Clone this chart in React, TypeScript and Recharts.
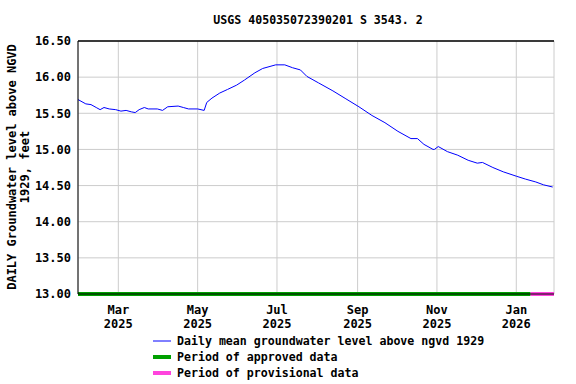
import { LineChart, Line, XAxis, YAxis, CartesianGrid } from 'recharts';

// daily mean water level
const dates = [
  '2025-01-29', '2025-02-04', '2025-02-08', '2025-02-12', '2025-02-15', '2025-02-18',
  '2025-02-22', '2025-02-27', '2025-03-03', '2025-03-07', '2025-03-11', '2025-03-14',
  '2025-03-17', '2025-03-21', '2025-03-24', '2025-03-31', '2025-04-04', '2025-04-08',
  '2025-04-16', '2025-04-20', '2025-04-24', '2025-05-01', '2025-05-06', '2025-05-08',
  '2025-05-12', '2025-05-18', '2025-05-24', '2025-05-31', '2025-06-06', '2025-06-14',
  '2025-06-20', '2025-06-30', '2025-07-07', '2025-07-13', '2025-07-19', '2025-07-24',
  '2025-08-02', '2025-08-13', '2025-08-23', '2025-09-02', '2025-09-12', '2025-09-22',
  '2025-10-02', '2025-10-12', '2025-10-17', '2025-10-22', '2025-10-29', '2025-10-30',
  '2025-11-02', '2025-11-09', '2025-11-17', '2025-11-25', '2025-12-02', '2025-12-06',
  '2025-12-14', '2025-12-22', '2026-01-01', '2026-01-08', '2026-01-16', '2026-01-22',
  '2026-01-29',
];
const levels = [
  15.69, 15.63, 15.62, 15.58, 15.55, 15.58,
  15.56, 15.55, 15.53, 15.54, 15.52, 15.51,
  15.55, 15.58, 15.56, 15.56, 15.54, 15.59,
  15.60, 15.58, 15.56, 15.56, 15.54, 15.65,
  15.71, 15.78, 15.83, 15.89, 15.96, 16.06,
  16.12, 16.17, 16.17, 16.13, 16.10, 16.01,
  15.92, 15.81, 15.70, 15.59, 15.47, 15.37,
  15.25, 15.15, 15.15, 15.07, 15.00, 15.00,
  15.04, 14.97, 14.92, 14.85, 14.81, 14.82,
  14.75, 14.69, 14.63, 14.59, 14.55, 14.51,
  14.48,
];

const approvedSpan = ['2025-01-29', '2026-01-12'];
const provisionalSpan = ['2026-01-12', '2026-01-30'];
const xDomain = ['2025-01-29', '2026-01-30'];
const xTicks = ['2025-03-01', '2025-05-01', '2025-07-01', '2025-09-01', '2025-11-01', '2026-01-01'];
const yTicks = [13, 13.5, 14, 14.5, 15, 15.5, 16, 16.5];
const months = ['Jan', 'Feb', 'Mar', 'Apr', 'May', 'Jun', 'Jul', 'Aug', 'Sep', 'Oct', 'Nov', 'Dec'];

const title = 'USGS 405035072390201 S 3543. 2';
const yLabel = ['DAILY Groundwater level above NGVD', '1929, feet'];
const legendItems = [
  { label: 'Daily mean groundwater level above ngvd 1929', color: '#0000ff', w: 1 },
  { label: 'Period of approved data', color: '#00a000', w: 4 },
  { label: 'Period of provisional data', color: '#ff44dd', w: 4 },
];

const FONT = '"DejaVu Sans Mono", "Liberation Mono", monospace';
const ts = (d: string) => Date.parse(d + 'T00:00:00Z');

const series = dates.map((d, i) => ({ t: ts(d), v: levels[i] }));
const approved = approvedSpan.map(d => ({ t: ts(d), band: 13 }));
const provisional = provisionalSpan.map(d => ({ t: ts(d), band: 13 }));

function MonthTick({ x, y, payload }: any) {
  const d = new Date(payload.value);
  return (
    <g>
      <text x={x} y={y + 20} textAnchor="middle" fontFamily={FONT} fontWeight="bold" fontSize={12} fill="#000">
        {months[d.getUTCMonth()]}
      </text>
      <text x={x} y={y + 34} textAnchor="middle" fontFamily={FONT} fontWeight="bold" fontSize={12} fill="#000">
        {d.getUTCFullYear()}
      </text>
    </g>
  );
}

export default function App() {
  const dom = [ts(xDomain[0]), ts(xDomain[1])];
  return (
    <div style={{ position: 'absolute', left: 0, top: 0, width: 576, height: 384, background: '#fff' }}>
      <LineChart width={576} height={384} margin={{ top: 41, right: 22, left: 0, bottom: 50 }}>
        <CartesianGrid stroke="#cccccc" strokeWidth={1} />
        <XAxis
          dataKey="t"
          type="number"
          scale="time"
          domain={dom}
          ticks={xTicks.map(ts)}
          interval={0}
          allowDuplicatedCategory={false}
          height={40}
          tickSize={0}
          tickMargin={0}
          tick={<MonthTick />}
          axisLine={{ stroke: '#000' }}
        />
        <XAxis xAxisId="top" orientation="top" dataKey="t" type="number" domain={dom} height={0} tick={false} tickLine={false} axisLine={{ stroke: '#000' }} />
        <YAxis
          type="number"
          domain={[13, 16.5]}
          ticks={yTicks}
          interval={0}
          width={78}
          tickSize={0}
          tickMargin={7}
          tickFormatter={(v: number) => v.toFixed(2)}
          tick={{ fontFamily: FONT, fontWeight: 'bold', fontSize: 12, fill: '#000' }}
          axisLine={{ stroke: '#000' }}
        />
        <YAxis yAxisId="right" orientation="right" domain={[13, 16.5]} width={0} tick={false} tickLine={false} axisLine={{ stroke: '#000' }} />
        <Line data={series} dataKey="v" type="linear" stroke="#0000ff" strokeWidth={1} dot={false} isAnimationActive={false} />
        <Line data={approved} dataKey="band" type="linear" stroke="#00a000" strokeWidth={4} dot={false} isAnimationActive={false} />
        <Line data={provisional} dataKey="band" type="linear" stroke="#ff44dd" strokeWidth={4} dot={false} isAnimationActive={false} />
      </LineChart>
      <svg width={576} height={384} style={{ position: 'absolute', left: 0, top: 0, pointerEvents: 'none' }}>
        <line x1={78} x2={554} y1={41} y2={41} stroke="#000" strokeWidth={1.5} />
        <text x={318} y={24} textAnchor="middle" fontFamily={FONT} fontWeight="bold" fontSize={11.6} fill="#000">
          {title}
        </text>
        <text x={16} y={167} transform="rotate(-90 16 167)" textAnchor="middle" fontFamily={FONT} fontWeight="bold" fontSize={12} fill="#000">
          {yLabel[0]}
        </text>
        <text x={29} y={167} transform="rotate(-90 29 167)" textAnchor="middle" fontFamily={FONT} fontWeight="bold" fontSize={12} fill="#000">
          {yLabel[1]}
        </text>
        {legendItems.map((it, i) => (
          <g key={it.label}>
            <line x1={153} x2={171} y1={341 + i * 16} y2={341 + i * 16} stroke={it.color} strokeWidth={it.w} />
            <text x={177} y={345 + i * 16} fontFamily={FONT} fontWeight="bold" fontSize={11.6} fill="#000">
              {it.label}
            </text>
          </g>
        ))}
      </svg>
    </div>
  );
}
